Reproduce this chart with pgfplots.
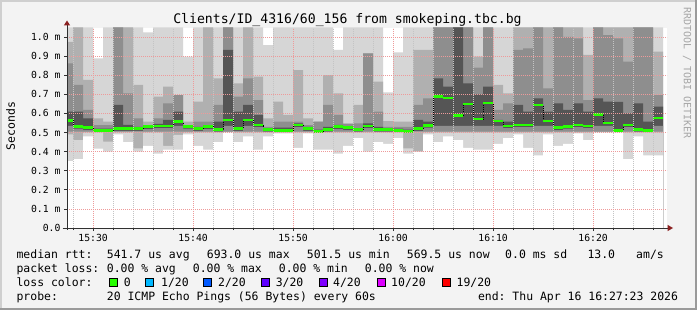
\documentclass[border=0pt]{standalone}
\usepackage{fontspec}
\setmonofont{DejaVu Sans Mono}
\usepackage{pgfplots}
\pgfplotsset{compat=1.18}
\usepackage{pgfplotstable}

\definecolor{bgc}{HTML}{F3F3F3}
\definecolor{brlight}{HTML}{CFCFCF}
\definecolor{brdark}{HTML}{9A9A9A}
\definecolor{axc}{HTML}{303030}
\definecolor{arrc}{HTML}{8B2020}
\definecolor{gridred}{HTML}{EE9A9A}
\definecolor{gridgray}{HTML}{C4C4C4}
\definecolor{cA}{HTML}{D6D6D6}
\definecolor{cB}{HTML}{B0B0B0}
\definecolor{cC}{HTML}{8E8E8E}
\definecolor{cD}{HTML}{555555}
\definecolor{l0}{HTML}{26FF00}
\definecolor{l1}{HTML}{00B8FF}
\definecolor{l2}{HTML}{0059FF}
\definecolor{l3}{HTML}{5E00FF}
\definecolor{l4}{HTML}{7E00FF}
\definecolor{l10}{HTML}{DD00FF}
\definecolor{l19}{HTML}{FF0000}

\pgfplotstableread{
t mx h1 h2 h3 md ld lo mn
27.383 1.05 0.975 0.862 0.609 0.562 0.535 0.49 0.35
28 1.05 1.05 0.749 0.609 0.532 0.520 0.46 0.36
29 1.05 0.775 0.618 0.574 0.525 0.513 0.50 0.48
30 0.888 0.574 0.539 0.52 0.512 0.500 0.50 0.415
31 1.05 0.557 0.539 0.52 0.51 0.498 0.452 0.40
32 1.05 1.05 1.05 0.644 0.52 0.508 0.50 0.49
33 1.05 1.05 0.705 0.54 0.52 0.508 0.50 0.45
34 1.05 0.749 0.574 0.53 0.52 0.508 0.417 0.40
35 1.024 0.557 0.539 0.535 0.53 0.518 0.50 0.43
36 1.05 0.688 0.574 0.545 0.535 0.523 0.50 0.39
37 1.05 0.740 0.653 0.566 0.535 0.523 0.43 0.41
38 1.05 0.696 0.696 0.609 0.557 0.535 0.487 0.41
39 0.897 0.557 0.539 0.535 0.532 0.520 0.50 0.49
40 1.05 0.662 0.557 0.53 0.52 0.508 0.50 0.43
41 1.05 1.05 0.557 0.535 0.53 0.518 0.50 0.41
42 1.05 0.784 0.644 0.557 0.515 0.503 0.50 0.45
43 1.05 1.05 1.05 0.932 0.565 0.535 0.50 0.50
44 1.05 0.757 0.688 0.609 0.52 0.508 0.50 0.45
45 1.05 1.05 0.784 0.644 0.565 0.535 0.50 0.48
46 1.05 0.792 0.670 0.592 0.54 0.528 0.50 0.41
47 0.958 0.574 0.53 0.52 0.515 0.503 0.50 0.48
48 1.05 0.662 0.557 0.525 0.51 0.498 0.50 0.495
49 1.05 0.592 0.557 0.525 0.51 0.498 0.50 0.495
50 1.05 0.827 0.557 0.548 0.54 0.528 0.50 0.42
51 1.05 0.574 0.539 0.53 0.52 0.508 0.50 0.495
52 1.05 0.557 0.557 0.515 0.505 0.493 0.50 0.41
53 1.05 0.801 0.644 0.53 0.515 0.503 0.50 0.41
54 0.932 0.705 0.592 0.54 0.53 0.518 0.50 0.39
55 1.05 0.548 0.545 0.53 0.525 0.513 0.50 0.43
56 1.05 0.644 0.548 0.52 0.515 0.503 0.50 0.47
57 1.05 0.914 0.914 0.548 0.535 0.523 0.50 0.40
58 1.05 0.766 0.609 0.53 0.515 0.503 0.50 0.45
59 0.71 0.56 0.53 0.52 0.515 0.503 0.50 0.44
60 0.92 0.557 0.53 0.52 0.51 0.498 0.50 0.47
61 1.05 0.557 0.53 0.515 0.505 0.493 0.417 0.39
62 1.05 0.932 0.644 0.566 0.52 0.508 0.40 0.40
63 1.05 0.932 0.679 0.557 0.537 0.525 0.50 0.49
64 1.05 1.05 1.05 0.784 0.69 0.535 0.50 0.45
65 1.05 1.05 1.05 0.74 0.68 0.535 0.50 0.48
66 1.05 1.05 1.05 1.05 0.59 0.535 0.50 0.46
67 1.05 1.05 1.05 0.757 0.65 0.535 0.50 0.42
68 1.05 0.897 0.84 0.70 0.57 0.535 0.50 0.41
69 1.05 1.05 1.05 0.74 0.655 0.535 0.50 0.41
70 1.05 0.749 0.618 0.566 0.56 0.535 0.50 0.44
71 1.05 0.705 0.653 0.557 0.535 0.523 0.50 0.47
72 1.05 1.05 0.932 0.644 0.54 0.528 0.50 0.49
73 1.05 1.05 0.94 0.609 0.54 0.528 0.50 0.42
74 1.05 1.05 1.05 0.679 0.645 0.535 0.50 0.38
75 1.05 1.05 0.731 0.609 0.56 0.535 0.50 0.49
76 1.05 1.05 1.05 0.653 0.525 0.513 0.50 0.43
77 1.05 1.05 1.0 0.618 0.532 0.520 0.50 0.44
78 1.05 1.05 0.993 0.653 0.54 0.528 0.50 0.495
79 1.05 0.906 0.670 0.609 0.535 0.523 0.50 0.46
80 1.05 1.05 1.05 0.679 0.595 0.535 0.50 0.50
81 1.05 1.05 1.01 0.662 0.55 0.535 0.50 0.50
82 1.05 1.05 0.993 0.66 0.51 0.498 0.50 0.50
83 1.05 1.05 0.871 0.60 0.54 0.528 0.50 0.36
84 1.05 1.05 1.05 0.653 0.515 0.503 0.50 0.48
85 1.05 1.05 1.05 0.557 0.51 0.498 0.50 0.38
86 1.05 0.923 0.696 0.635 0.575 0.535 0.50 0.38
87 1.05 0.923 0.696 0.635 0.575 0.535 0.50 0.38
}\smoke

\begin{document}
\begin{tikzpicture}[x=1bp,y=1bp]
\path[use as bounding box] (0,0) rectangle (697,310);
\fill[bgc] (0,0) rectangle (697,310);
\fill[brlight] (0,308) rectangle (697,310);
\fill[brlight] (0,0) rectangle (2,310);
\fill[brdark] (695,0) rectangle (697,310);
\fill[brdark] (0,0) rectangle (697,2);

\begin{axis}[
  at={(67bp,82bp)}, anchor=south west,
  scale only axis, width=600bp, height=200bp,
  xmin=27.383, xmax=87.383, ymin=0, ymax=1.0471,
  axis on top,
  axis line style={draw=none},
  axis background/.style={fill=white},
  tick pos=left, tick align=outside,
  major tick length=3bp, minor tick length=2bp,
  every tick/.style={color=axc, line width=0.8bp},
  xtick={30,40,50,60,70,80},
  xticklabels={15:30,15:40,15:50,16:00,16:10,16:20},
  minor xtick={28,32,34,36,38,42,44,46,48,52,54,56,58,62,64,66,68,72,74,76,78,82,84,86},
  ytick={0,0.1,0.2,0.3,0.4,0.5,0.6,0.7,0.8,0.9,1.0},
  yticklabels={0.0,0.1 m,0.2 m,0.3 m,0.4 m,0.5 m,0.6 m,0.7 m,0.8 m,0.9 m,1.0 m},
  grid=both,
  major grid style={color=gridred, line width=0.8bp, dash pattern=on 1bp off 1bp},
  minor grid style={color=gridgray, line width=0.8bp, dash pattern=on 1bp off 1bp},
  ticklabel style={font=\ttfamily\fontsize{9.8}{11}\selectfont, text=black},
]
\addplot[const plot, draw=none, fill=cA] table[x=t,y=mx]{\smoke} \closedcycle;
\addplot[const plot, draw=none, fill=cB] table[x=t,y=h1]{\smoke} \closedcycle;
\addplot[const plot, draw=none, fill=cC] table[x=t,y=h2]{\smoke} \closedcycle;
\addplot[const plot, draw=none, fill=cD] table[x=t,y=h3]{\smoke} \closedcycle;
\addplot[const plot, draw=none, fill=cC] table[x=t,y=ld]{\smoke} \closedcycle;
\addplot[const plot, draw=none, fill=cB] coordinates {(27.383,0.505) (87,0.505)} \closedcycle;
\addplot[const plot, draw=none, fill=cA] table[x=t,y=lo]{\smoke} \closedcycle;
\addplot[const plot, draw=none, fill=white] table[x=t,y=mn]{\smoke} \closedcycle;
\addplot[const plot, draw=black, line width=0.7bp, dash pattern=on 1bp off 1bp] table[x=t,y=md]{\smoke};
\addplot[jump mark left, draw=l0, line width=2.6bp] table[x=t,y=md]{\smoke};
\end{axis}

% axis lines and arrows
\draw[axc, line width=1bp] (67,80.5) -- (67,285);
\draw[axc, line width=1bp] (62.5,82) -- (668,82);
\fill[arrc] (63.8,284.5) -- (70.2,284.5) -- (67,289.5) -- cycle;
\fill[arrc] (667.5,78.8) -- (667.5,85.2) -- (673,82) -- cycle;

% title and labels
\node[anchor=base, inner sep=0, font=\ttfamily\fontsize{13.2}{15}\selectfont] at (347.5,286.3) {Clients/ID\_4316/60\_156 from smokeping.tbc.bg};
\node[rotate=90, inner sep=0, font=\ttfamily\fontsize{11.5}{13}\selectfont] at (10.5,184) {Seconds};
\node[rotate=-90, inner sep=0, text=black!35, font=\ttfamily\fontsize{10}{12}\selectfont] at (687,237) {RRDTOOL / TOBI OETIKER};

\begin{scope}[every node/.style={anchor=base west, inner sep=0, font=\ttfamily\fontsize{11.5}{13}\selectfont}]
\node at (16.4,51.6) {median rtt:};
\node at (106.7,51.6) {541.7 us avg};
\node at (206.7,51.6) {693.0 us max};
\node at (306.7,51.6) {501.5 us min};
\node at (406.7,51.6) {569.5 us now};
\node at (505,51.6) {0.0 ms sd};
\node at (587.3,51.6) {13.0};
\node at (636,51.6) {am/s};

\node at (16.4,37.5) {packet loss:};
\node at (106.7,37.5) {0.00 \% avg};
\node at (192.7,37.5) {0.00 \% max};
\node at (278.7,37.5) {0.00 \% min};
\node at (364.7,37.5) {0.00 \% now};

\node at (16.4,23.4) {loss color:};
\node at (123.6,23.4) {0};
\node at (161,23.4) {1/20};
\node at (218,23.4) {2/20};
\node at (275.6,23.4) {3/20};
\node at (333,23.4) {4/20};
\node at (391,23.4) {10/20};
\node at (456.4,23.4) {19/20};

\node at (16.4,9.2) {probe:};
\node at (106.7,9.2) {20 ICMP Echo Pings (56 Bytes) every 60s};
\node at (477.8,9.2) {end: Thu Apr 16 16:27:23 2026};
\end{scope}

\draw[black, line width=0.8bp, fill=l0] (109,24) rectangle (117,32);
\draw[black, line width=0.8bp, fill=l1] (145.5,24) rectangle (153.5,32);
\draw[black, line width=0.8bp, fill=l2] (203.3,24) rectangle (211.3,32);
\draw[black, line width=0.8bp, fill=l3] (261.3,24) rectangle (269.3,32);
\draw[black, line width=0.8bp, fill=l4] (319.3,24) rectangle (327.3,32);
\draw[black, line width=0.8bp, fill=l10] (377.2,24) rectangle (385.2,32);
\draw[black, line width=0.8bp, fill=l19] (442.3,24) rectangle (450.3,32);
\end{tikzpicture}
\end{document}
